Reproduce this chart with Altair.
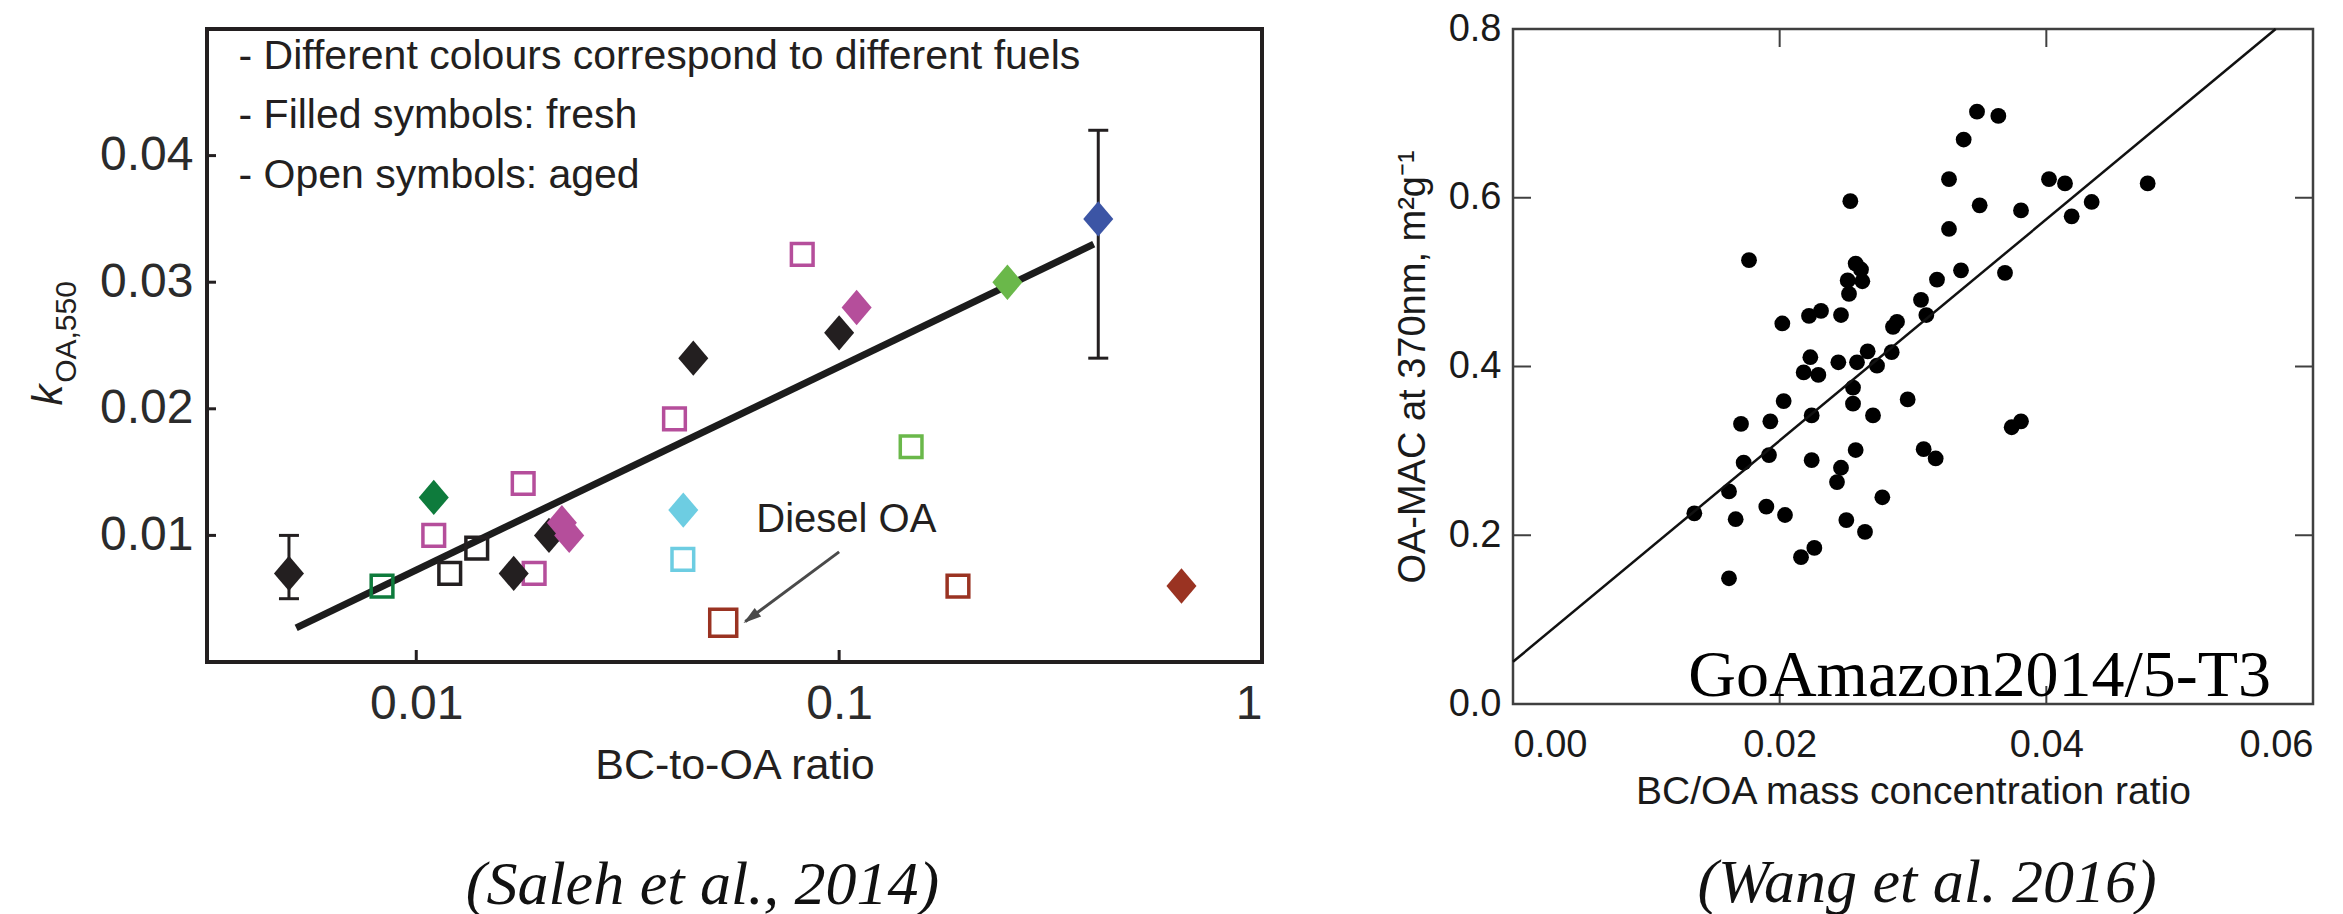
import altair as alt
import pandas as pd

# ---------------- Left panel data (Saleh et al., 2014) ----------------
fresh_x = [0.0050, 0.0110, 0.0170, 0.0206, 0.0221, 0.0230, 0.0428, 0.0452, 0.100, 0.110, 0.250, 0.410, 0.645]
fresh_y = [0.0070, 0.0130, 0.0070, 0.0100, 0.0110, 0.0100, 0.0120, 0.0240, 0.0260, 0.0280, 0.0300, 0.0350, 0.0060]
fresh_fuel = ["F1", "F2", "F1", "F1", "F3", "F3", "F4", "F1", "F1", "F3", "F5", "F6", "F7"]

aged_x = [0.0083, 0.0110, 0.0120, 0.0139, 0.0179, 0.0190, 0.0408, 0.0427, 0.0532, 0.0818, 0.148, 0.191]
aged_y = [0.0060, 0.0100, 0.0070, 0.0090, 0.0141, 0.0070, 0.0192, 0.0081, 0.0031, 0.0322, 0.0170, 0.0060]
aged_fuel = ["F2", "F3", "F1", "F1", "F3", "F3", "F3", "F4", "F7", "F3", "F5", "F7"]
aged_label = ["", "", "", "", "", "", "", "", "Diesel OA", "", "", ""]

err_x = [0.0050, 0.410]
err_lo = [0.0050, 0.0240]
err_hi = [0.0100, 0.0420]

fit_left_x = [0.0052, 0.400]
fit_left_y = [0.0027, 0.0330]

fuels = ["F1", "F2", "F3", "F4", "F5", "F6", "F7"]
fuel_colors = ["#231f20", "#0e7b3c", "#b54e9b", "#6dcde2", "#6ab84a", "#3c55a5", "#9a3322"]

note_lines = ["- Different colours correspond to different fuels",
              "- Filled symbols: fresh",
              "- Open symbols: aged"]
note_x = [0.0038, 0.0038, 0.0038]
note_y = [0.0478, 0.0431, 0.0384]

diesel_text = ["Diesel OA"]
diesel_text_x = [0.104]
diesel_text_y = [0.0112]
arrow_x = [0.100]
arrow_y = [0.0087]
arrow_x2 = [0.0600]
arrow_y2 = [0.0032]
arrowhead_x = [0.0618]
arrowhead_y = [0.0035]

left_xticks = [0.01, 0.1, 1]
left_yticks = [0.01, 0.02, 0.03, 0.04]

# ---------------- Right panel data (Wang et al. 2016) ----------------
wang_x = [0.0136, 0.0162, 0.0167, 0.0162, 0.0177, 0.0171, 0.0173, 0.0190, 0.0192, 0.0193,
          0.0202, 0.0203, 0.0204, 0.0216, 0.0226, 0.0218, 0.0222, 0.0223, 0.0229, 0.0224,
          0.0224, 0.0231, 0.0243, 0.0246, 0.0244, 0.0246, 0.0250, 0.0252, 0.0251, 0.0253,
          0.0255, 0.0255, 0.0257, 0.0261, 0.0262, 0.0257, 0.0258, 0.0264, 0.0266, 0.0270,
          0.0273, 0.0277, 0.0284, 0.0285, 0.0288, 0.0296, 0.0306, 0.0310, 0.0308, 0.0317,
          0.0318, 0.0327, 0.0327, 0.0336, 0.0338, 0.0348, 0.0350, 0.0364, 0.0369, 0.0374,
          0.0381, 0.0381, 0.0402, 0.0414, 0.0419, 0.0434, 0.0476]
wang_y = [0.226, 0.252, 0.219, 0.149, 0.526, 0.332, 0.286, 0.234, 0.295, 0.335,
          0.451, 0.359, 0.224, 0.174, 0.185, 0.393, 0.460, 0.411, 0.390, 0.342,
          0.289, 0.466, 0.263, 0.280, 0.405, 0.461, 0.218, 0.486, 0.502, 0.596,
          0.375, 0.356, 0.522, 0.515, 0.501, 0.301, 0.405, 0.204, 0.418, 0.342,
          0.401, 0.245, 0.417, 0.447, 0.453, 0.361, 0.479, 0.461, 0.302, 0.291,
          0.503, 0.563, 0.622, 0.514, 0.669, 0.702, 0.591, 0.697, 0.511, 0.328,
          0.335, 0.585, 0.622, 0.617, 0.578, 0.595, 0.617]

fit_right_x = [0.0, 0.0572]
fit_right_y = [0.05, 0.80]

right_xticks = [0.00, 0.02, 0.04, 0.06]
right_yticks = [0.0, 0.2, 0.4, 0.6, 0.8]
right_inner_xticks = [0.02, 0.04]
right_inner_yticks = [0.2, 0.4, 0.6]

campaign_label = ["GoAmazon2014/5-T3"]
campaign_x = [0.0350]
campaign_y = [0.0095]

# ---------------- Left panel ----------------
LW, LH = 1055, 633
INK = "#231f20"
SANS = "Liberation Sans"

xs_l = alt.Scale(type="log", domain=[0.0032, 1.0], nice=False)
ys_l = alt.Scale(domain=[0, 0.05], nice=False, zero=False)
col_scale = alt.Scale(domain=fuels, range=fuel_colors)

df_fresh = pd.DataFrame({"x": fresh_x, "y": fresh_y, "fuel": fresh_fuel})
df_aged = pd.DataFrame({"x": aged_x, "y": aged_y, "fuel": aged_fuel, "label": aged_label})
df_err = pd.DataFrame({"x": err_x, "lo": err_lo, "hi": err_hi})
df_fitl = pd.DataFrame({"x": fit_left_x, "y": fit_left_y})
df_note = pd.DataFrame({"x": note_x, "y": note_y, "t": note_lines})
df_diesel = pd.DataFrame({"x": diesel_text_x, "y": diesel_text_y, "t": diesel_text})
df_arrow = pd.DataFrame({"x": arrow_x, "y": arrow_y, "x2": arrow_x2, "y2": arrow_y2})
df_head = pd.DataFrame({"x": arrowhead_x, "y": arrowhead_y})
df_lxt = pd.DataFrame({"v": left_xticks[:2]})
df_lyt = pd.DataFrame({"v": left_yticks})

x_axis_l = alt.Axis(values=left_xticks, format="~g", ticks=False, domain=False, grid=False,
                    labelFont=SANS, labelFontSize=48, labelColor="#2b2b2b", labelPadding=18,
                    title="BC-to-OA ratio", titleFont=SANS, titleFontSize=43,
                    titleFontWeight="normal", titleColor=INK, titlePadding=16)
y_axis_l = alt.Axis(values=left_yticks, format=".2f", ticks=False, domain=False, grid=False,
                    labelFont=SANS, labelFontSize=48, labelColor="#2b2b2b", labelPadding=14,
                    title=None)


def X(f="x", ax=alt.Undefined):
    return alt.X(f, type="quantitative", scale=xs_l, axis=ax)


def Y(f="y", ax=alt.Undefined):
    return alt.Y(f, type="quantitative", scale=ys_l, axis=ax)


fit_l = alt.Chart(df_fitl).mark_line(color="#1c1c1c", strokeWidth=7).encode(
    x=X("x", x_axis_l), y=Y("y", y_axis_l))

err_rule = alt.Chart(df_err).mark_rule(color=INK, strokeWidth=3).encode(
    x=X(), y=Y("lo"), y2="hi")
err_cap_lo = alt.Chart(df_err).mark_tick(orient="horizontal", size=20, thickness=3, color=INK,
                                         opacity=1).encode(x=X(), y=Y("lo"))
err_cap_hi = alt.Chart(df_err).mark_tick(orient="horizontal", size=20, thickness=3, color=INK,
                                         opacity=1).encode(x=X(), y=Y("hi"))

aged = alt.Chart(df_aged).mark_point(shape="square", filled=False, strokeWidth=3.5,
                                     opacity=1).encode(
    x=X(), y=Y(),
    color=alt.Color("fuel:N", scale=col_scale, legend=None),
    size=alt.condition("datum.label == 'Diesel OA'", alt.value(729), alt.value(470)))

fresh = alt.Chart(df_fresh).mark_point(shape="M0,-1L0.85,0L0,1L-0.85,0Z", filled=True,
                                       size=1250, opacity=1).encode(
    x=X(), y=Y(),
    color=alt.Color("fuel:N", scale=col_scale, legend=None))

ytick_l = alt.Chart(df_lyt).mark_rule(color=INK, strokeWidth=3).encode(
    y=Y("v"), x=alt.value(0), x2=alt.value(9))
xtick_l = alt.Chart(df_lxt).mark_rule(color=INK, strokeWidth=3).encode(
    x=X("v"), y=alt.value(LH), y2=alt.value(LH - 12))

note = alt.Chart(df_note).mark_text(font=SANS, fontSize=41, color=INK, align="left",
                                    baseline="middle").encode(x=X(), y=Y(), text="t:N")
diesel = alt.Chart(df_diesel).mark_text(font=SANS, fontSize=40, color=INK, align="center",
                                        baseline="middle").encode(x=X(), y=Y(), text="t:N")
arrow = alt.Chart(df_arrow).mark_rule(color="#4a4a4a", strokeWidth=3).encode(
    x=X(), y=Y(), x2="x2", y2="y2")
head = alt.Chart(df_head).mark_point(shape="M0,-1L0.6,1L-0.6,1Z", filled=True, angle=233,
                                     size=320, color="#4a4a4a", opacity=1).encode(x=X(), y=Y())

k_title = alt.Chart(pd.DataFrame({"t": ["k"]})).mark_text(
    font=SANS, fontSize=42, fontStyle="italic", angle=270, color=INK,
    align="center", baseline="middle").encode(text="t:N", x=alt.value(-158), y=alt.value(366))
k_sub = alt.Chart(pd.DataFrame({"t": ["OA,550"]})).mark_text(
    font=SANS, fontSize=30, angle=270, color=INK,
    align="center", baseline="middle").encode(text="t:N", x=alt.value(-140), y=alt.value(303))

left = alt.layer(fit_l, err_rule, err_cap_lo, err_cap_hi, aged, fresh, ytick_l, xtick_l,
                 note, diesel, arrow, head, k_title, k_sub).properties(
    width=LW, height=LH,
    view=alt.ViewBackground(stroke=INK, strokeWidth=4),
    title=alt.TitleParams("(Saleh et al., 2014)", orient="bottom", anchor="middle",
                          font="Liberation Serif", fontStyle="italic", fontWeight="normal",
                          fontSize=62, color="#111111", dx=-32, offset=68))

# ---------------- Right panel ----------------
RW, RH = 800, 675
GRAY = "#404040"
xs_r = alt.Scale(domain=[0, 0.06], nice=False, zero=False)
ys_r = alt.Scale(domain=[0, 0.8], nice=False, zero=False)

df_wang = pd.DataFrame({"x": wang_x, "y": wang_y})
df_fitr = pd.DataFrame({"x": fit_right_x, "y": fit_right_y})
df_rxt = pd.DataFrame({"v": right_inner_xticks})
df_ryt = pd.DataFrame({"v": right_inner_yticks})
df_camp = pd.DataFrame({"x": campaign_x, "y": campaign_y, "t": campaign_label})

x_axis_r = alt.Axis(values=right_xticks, format=".2f", ticks=False, domain=False, grid=False,
                    labelFont=SANS, labelFontSize=38, labelColor="#1a1a1a", labelPadding=22,
                    title="BC/OA mass concentration ratio", titleFont=SANS, titleFontSize=39,
                    titleFontWeight="normal", titleColor="#1a1a1a", titlePadding=8)
y_axis_r = alt.Axis(values=right_yticks, format=".1f", ticks=False, domain=False, grid=False,
                    labelFont=SANS, labelFontSize=38, labelColor="#1a1a1a", labelPadding=12,
                    title="OA-MAC at 370nm, m²g⁻¹", titleFont=SANS, titleFontSize=38,
                    titleFontWeight="normal", titleColor="#1a1a1a", titlePadding=16)


def XR(f="x", ax=alt.Undefined):
    return alt.X(f, type="quantitative", scale=xs_r, axis=ax)


def YR(f="y", ax=alt.Undefined):
    return alt.Y(f, type="quantitative", scale=ys_r, axis=ax)


pts = alt.Chart(df_wang).mark_circle(size=250, color="black", opacity=1).encode(
    x=XR("x", x_axis_r), y=YR("y", y_axis_r))
fit_r = alt.Chart(df_fitr).mark_line(color="#111111", strokeWidth=2.5).encode(x=XR(), y=YR())

tb = alt.Chart(df_rxt).mark_rule(color=GRAY, strokeWidth=2).encode(
    x=XR("v"), y=alt.value(RH), y2=alt.value(RH - 18))
tt = alt.Chart(df_rxt).mark_rule(color=GRAY, strokeWidth=2).encode(
    x=XR("v"), y=alt.value(0), y2=alt.value(18))
tl = alt.Chart(df_ryt).mark_rule(color=GRAY, strokeWidth=2).encode(
    y=YR("v"), x=alt.value(0), x2=alt.value(18))
tr = alt.Chart(df_ryt).mark_rule(color=GRAY, strokeWidth=2).encode(
    y=YR("v"), x=alt.value(RW), x2=alt.value(RW - 18))

camp = alt.Chart(df_camp).mark_text(font="Liberation Serif", fontSize=66, color="black",
                                    align="center", baseline="alphabetic").encode(
    x=XR(), y=YR(), text="t:N")

right = alt.layer(pts, fit_r, tb, tt, tl, tr, camp).properties(
    width=RW, height=RH,
    view=alt.ViewBackground(stroke=GRAY, strokeWidth=2.5),
    title=alt.TitleParams("(Wang et al. 2016)", orient="bottom", anchor="middle",
                          font="Liberation Serif", fontStyle="italic", fontWeight="normal",
                          fontSize=62, color="#111111", dx=14, offset=42))

chart = alt.hconcat(left, right, spacing=251, bounds="flush").properties(
    padding={"left": 18, "top": 0, "right": 0, "bottom": 0}
).configure(background="white")

chart.save("out.html", embed_options={"renderer": "svg", "actions": False})
